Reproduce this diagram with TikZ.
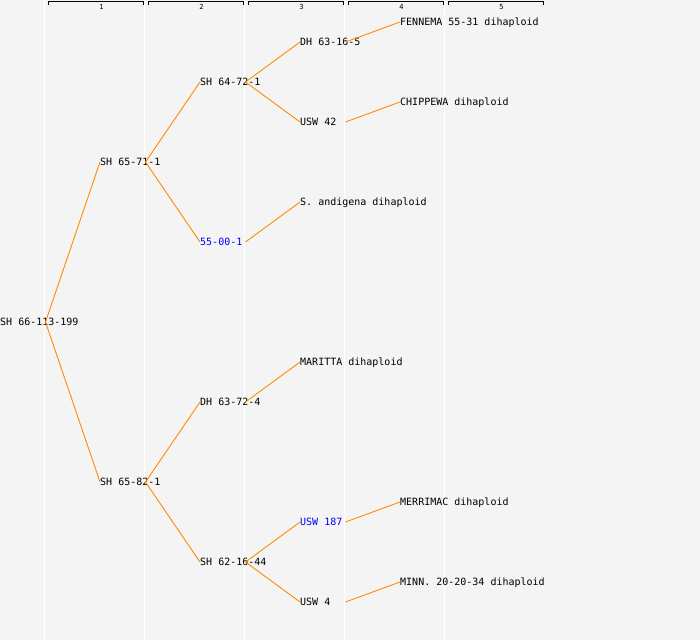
\documentclass[tikz,border=0pt]{standalone}
\usepackage{fontspec}
\setmonofont{DejaVu Sans Mono}
\usetikzlibrary{calc}
\definecolor{pedbg}{RGB}{244,244,244}
\definecolor{pedline}{RGB}{255,140,0}
\tikzset{
  pednode/.style={anchor=west,inner sep=0pt,font=\ttfamily\fontsize{10}{10}\selectfont,
    text height=8pt,text depth=1pt},
  pedlink/.style={draw=pedline,line width=0.9pt},
  pedhead/.style={inner sep=0pt,font=\ttfamily\fontsize{7}{7}\selectfont}
}

\begin{document}
\begin{tikzpicture}[x=1pt,y=-1pt]
  %% Background and column grid
  \fill[pedbg] (0,0) rectangle (700,640);
  \useasboundingbox (0,0) rectangle (700,640);
  \foreach \c in {1,...,5}
  {
    \draw[white,line width=1pt] (\c*100-55.5,0) -- (\c*100-55.5,640);
    \draw[black,line width=0.8pt] (\c*100-52,5) -- (\c*100-52,1.5) -- (\c*100+43,1.5) -- (\c*100+43,5);
    \node[pedhead] (H\c) at (\c*100+1.5,6.5) {\c};
  }

  %% Generation 0 and 1
  \node[pednode] (G0) at (0,322) {SH 66-113-199};
  \node[pednode] (A1) at (100,162) {SH 65-71-1};
  \node[pednode] (B1) at (100,482) {SH 65-82-1};

  %% Generation 2
  \node[pednode] (A2) at (200,82)  {SH 64-72-1};
  \node[pednode,text=blue] (B2) at (200,242) {55-00-1};
  \node[pednode] (C2) at (200,402) {DH 63-72-4};
  \node[pednode] (D2) at (200,562) {SH 62-16-44};

  %% Generation 3
  \node[pednode] (A3) at (300,42)  {DH 63-16-5};
  \node[pednode] (B3) at (300,122) {USW 42};
  \node[pednode] (C3) at (300,202) {S. andigena dihaploid};
  \node[pednode] (D3) at (300,362) {MARITTA dihaploid};
  \node[pednode,text=blue] (E3) at (300,522) {USW 187};
  \node[pednode] (F3) at (300,602) {USW 4};

  %% Generation 4
  \node[pednode] (A4) at (400,22)  {FENNEMA 55-31 dihaploid};
  \node[pednode] (B4) at (400,102) {CHIPPEWA dihaploid};
  \node[pednode] (C4) at (400,502) {MERRIMAC dihaploid};
  \node[pednode] (D4) at (400,582) {MINN. 20-20-34 dihaploid};

  %% Links from each parent to its children
  \foreach \p/\q in {G0/A1, G0/B1, A1/A2, A1/B2, B1/C2, B1/D2,
                     A2/A3, A2/B3, B2/C3, C2/D3, D2/E3, D2/F3,
                     A3/A4, B3/B4, E3/C4, F3/D4}
  {
    \path[pedlink] ($(\p.west)+(45.5,0)$) -- (\q.west);
  }
\end{tikzpicture}
\end{document}
